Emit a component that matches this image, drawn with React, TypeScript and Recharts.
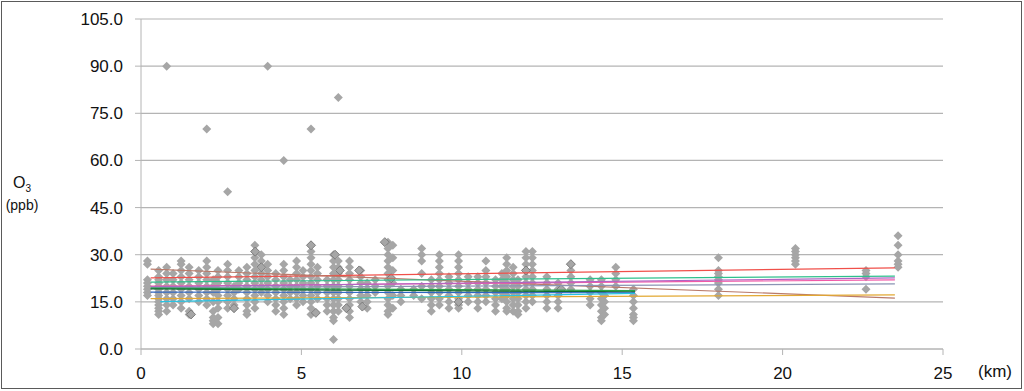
import { ScatterChart, Scatter, XAxis, YAxis, CartesianGrid } from "recharts";

// distance of each monitoring column (km)
const stationKm = [
  0.2, 0.55, 0.8, 1.0, 1.25, 1.5, 1.8, 2.05, 2.25, 2.4, 2.7, 2.9, 3.05, 3.3, 3.55, 3.75, 3.95, 4.2, 4.45,
  4.65, 4.85, 5.05, 5.3, 5.5, 5.8, 6.0, 6.15, 6.5, 6.85, 7.05, 7.3, 7.7, 7.85, 8.1, 8.5, 8.75, 9.05, 9.3,
  9.6, 9.9, 10.2, 10.5, 10.75, 11.05, 11.25, 11.4, 11.6, 11.75, 12.0, 12.2, 12.65, 13.0, 13.4, 14.0, 14.35,
  14.45, 14.8, 15.35, 18.0, 20.4, 22.6, 23.6,
];

// O3 readings (ppb) at each column
const stationO3 = [
  [28, 27, 22, 21, 20, 19, 18, 17],
  [25, 23, 22, 21, 20, 19, 18, 17, 16, 15, 14, 13, 12, 11],
  [90, 26, 24, 22, 20, 18, 16, 14, 12],
  [24, 22, 20, 18, 16, 14],
  [28, 27, 25, 23, 21, 19, 17, 15, 13],
  [26, 24, 22, 20, 18, 16, 12, 11],
  [25, 23, 21, 19, 17, 15],
  [70, 28, 26, 24, 22, 20, 18, 16, 14],
  [22, 20, 18, 15, 12, 10, 9, 8],
  [25, 23, 21, 19, 17, 15, 13, 10, 8],
  [50, 27, 25, 23, 21, 19, 17, 15, 13],
  [20, 18, 16, 14, 13],
  [25, 23, 21, 19],
  [26, 24, 22, 20, 18, 16, 14, 12, 11],
  [33, 31, 29, 27, 25, 23, 21, 19, 17, 15, 13],
  [30, 28, 26, 24, 22, 20, 18],
  [90, 27, 25, 23, 21, 19, 17, 15],
  [24, 22, 20, 18, 16, 14, 12],
  [60, 27, 25, 23, 21, 19, 17, 15, 13, 11],
  [22, 20, 18, 16],
  [28, 26, 24, 22, 20, 18, 16, 14],
  [25, 23, 21, 19, 17, 15],
  [70, 33, 31, 29, 27, 25, 23, 21, 19, 17, 15, 13, 11],
  [26, 24, 22, 20, 18, 16],
  [22, 20, 18, 16, 14, 12],
  [30, 28, 26, 24, 22, 20, 18, 16, 14, 12, 10, 9, 3],
  [80, 28, 26, 24, 22, 20, 18, 16, 14, 12],
  [28, 26, 24, 22, 20, 18, 16, 14, 12, 10],
  [25, 23, 21, 19, 17, 15],
  [21, 19, 17, 15, 13],
  [22, 20, 18],
  [34, 32, 30, 28, 26, 24, 22, 20, 18, 16, 14, 12, 11],
  [33, 29, 25, 21, 17, 13],
  [19, 17, 15],
  [19, 17],
  [32, 30, 28, 24, 20, 16],
  [22, 20, 18, 16, 14, 12],
  [30, 28, 26, 24, 22, 20, 18, 16, 14],
  [23, 21, 19, 17, 15, 13],
  [30, 28, 26, 24, 22, 20, 18, 16, 14, 13],
  [23, 21, 19, 17, 15],
  [23, 21, 19, 17, 15, 13],
  [28, 25, 23, 21, 19, 17, 15],
  [22, 20, 18, 16, 14, 12],
  [24, 22, 20, 18, 16],
  [29, 27, 25, 23, 21, 19, 17, 15, 13, 12],
  [26, 24, 22, 20, 18, 16, 14, 12],
  [22, 20, 18, 16, 14, 12, 11],
  [31, 29, 27, 25, 23, 21, 19, 17, 15, 13],
  [31, 29, 27, 25, 23, 21, 19, 17, 15],
  [23, 21, 19, 17, 15, 13],
  [21, 19, 17, 15, 13],
  [27, 25, 23, 21, 19],
  [22, 20, 18, 16, 14],
  [22, 20, 18, 16, 14, 12, 10, 9],
  [17, 15, 13, 11],
  [26, 24, 22, 20],
  [19, 17, 15, 13, 11, 10, 9],
  [29, 25, 24, 23, 22, 21, 19, 17],
  [32, 31, 30, 29, 28, 27],
  [25, 24, 23, 19],
  [36, 33, 30, 28, 27, 26],
];

// overlapping points drawn darker
const darkKm = [1.56, 2.9, 3.56, 3.75, 5.3, 5.45, 6.05, 6.2, 6.4, 6.8, 6.9, 7.6, 7.8, 9.9, 12.0, 13.1, 13.4];
const darkO3 = [11, 13, 31, 26, 33, 11.5, 30, 25, 13, 25, 13.5, 34, 22.5, 15, 25, 19, 27];

// regression lines
const trendStartKm = [0.3, 0.3, 0.3, 0.3, 0.3, 0.3, 0.3, 0.3, 0.3, 0.3, 0.6];
const trendEndKm = [23.5, 23.5, 23.5, 23.5, 23.5, 23.5, 15.4, 15.4, 15.4, 23.5, 15.4];
const trendStartO3 = [22.6, 25.4, 21.3, 20.0, 19.8, 19.5, 19.4, 19.1, 18.1, 16.0, 15.1];
const trendEndO3 = [25.8, 16.2, 23.2, 22.0, 22.6, 20.7, 18.6, 18.2, 17.9, 17.2, 17.7];
const trendColors = [
  "#f0504a", "#b97a6a", "#2ec08c", "#f05aa8", "#b064c4", "#8a94b4",
  "#27a34a", "#0f6e2e", "#2f66c2", "#e2a832", "#27c3e3",
];

const xTicks = [0, 5, 10, 15, 20, 25];
const yTicks = [0, 15, 30, 45, 60, 75, 90, 105];

const points = stationKm.flatMap((km, i) => stationO3[i].map((v) => ({ x: km, y: v })));
const darkPoints = darkKm.map((km, i) => ({ x: km, y: darkO3[i] }));
const trends = trendStartKm.map((km, i) => [
  { x: km, y: trendStartO3[i] },
  { x: trendEndKm[i], y: trendEndO3[i] },
]);

const FONT = "'Liberation Sans', Arial, sans-serif";
const GRID = "#b4b4b4";

function Diamond(props: any) {
  const { cx, cy, fill, stroke } = props;
  if (cx == null || cy == null) return <g />;
  const r = 4.5;
  return (
    <polygon
      points={`${cx},${cy - r} ${cx + r},${cy} ${cx},${cy + r} ${cx - r},${cy}`}
      fill={fill}
      stroke={stroke}
      strokeWidth={stroke ? 0.9 : 0}
    />
  );
}

export default function App() {
  return (
    <div style={{ position: "absolute", left: 0, top: 0, width: 1024, height: 391, background: "#fff" }}>
      <ScatterChart width={1024} height={391} margin={{ top: 19, right: 81, bottom: 12, left: 81 }}>
        <CartesianGrid vertical={false} stroke={GRID} strokeWidth={1.2} />
        <XAxis
          type="number"
          dataKey="x"
          domain={[0, 25]}
          ticks={xTicks}
          height={30}
          tickSize={6}
          tickMargin={12}
          stroke={GRID}
          tick={{ fill: "#111", fontSize: 17, fontFamily: FONT }}
        />
        <YAxis
          type="number"
          dataKey="y"
          domain={[0, 105]}
          ticks={yTicks}
          width={60}
          tickSize={6}
          tickMargin={12}
          stroke={GRID}
          tickFormatter={(v: number) => v.toFixed(1)}
          tick={{ fill: "#111", fontSize: 17, fontFamily: FONT }}
        />
        <Scatter data={points} fill="#a6a6a6" shape={Diamond} isAnimationActive={false} />
        <Scatter data={darkPoints} fill="#a6a6a6" stroke="#777777" shape={Diamond} isAnimationActive={false} />
        {trends.map((d, i) => (
          <Scatter
            key={i}
            data={d}
            fill={trendColors[i]}
            line={{ stroke: trendColors[i], strokeWidth: 1.2 }}
            shape={() => <g />}
            isAnimationActive={false}
          />
        ))}
      </ScatterChart>
      <div
        style={{
          position: "absolute",
          left: 1,
          top: 1,
          width: 1021,
          height: 388,
          boxSizing: "border-box",
          border: "1.5px solid #5a5a5a",
          pointerEvents: "none",
        }}
      />
      <div style={{ position: "absolute", left: 0, top: 175, width: 44, textAlign: "center", fontFamily: FONT, fontSize: 16, color: "#111", lineHeight: "16px" }}>
        O<sub style={{ fontSize: 10, lineHeight: 0 }}>3</sub>
      </div>
      <div style={{ position: "absolute", left: 0, top: 197, width: 44, textAlign: "center", fontFamily: FONT, fontSize: 14, color: "#111", lineHeight: "16px" }}>
        (ppb)
      </div>
      <div style={{ position: "absolute", left: 978, top: 362, fontFamily: FONT, fontSize: 17, color: "#111", lineHeight: "20px" }}>
        (km)
      </div>
    </div>
  );
}
